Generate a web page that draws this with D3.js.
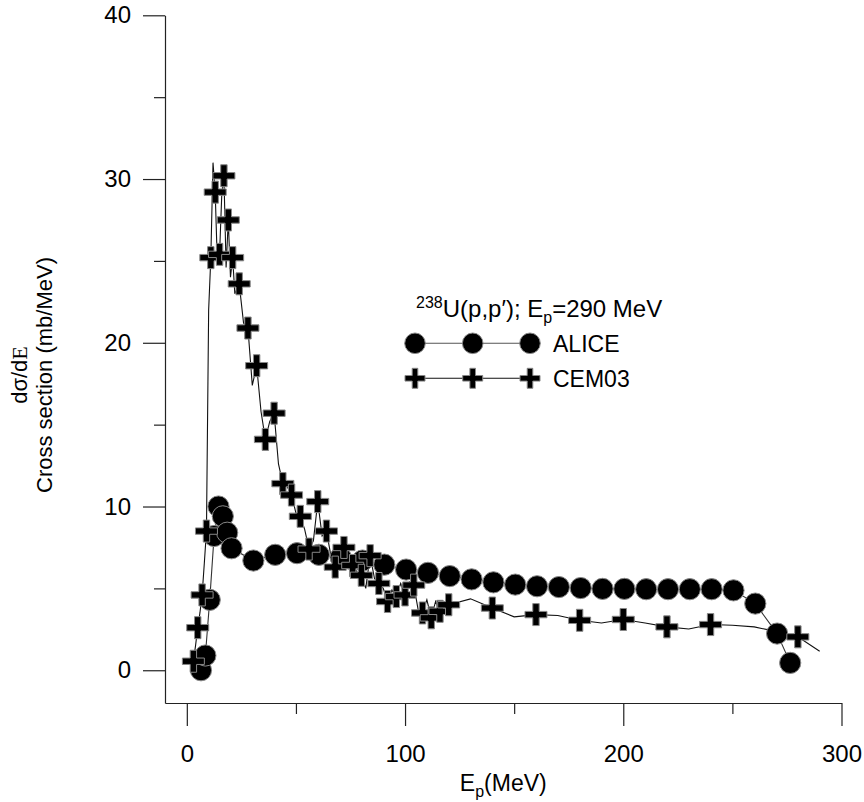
<!DOCTYPE html>
<html>
<head>
<meta charset="utf-8">
<script src="https://cdn.jsdelivr.net/npm/d3@7"></script>
<style>
  html, body { margin: 0; padding: 0; background: #fff; }
  svg { display: block; }
  text { font-family: "Liberation Sans", Arial, sans-serif; fill: #000; }
</style>
</head>
<body>
<svg id="chart" width="864" height="802"></svg>
<script>
// ALICE spectrum (proton energy in MeV, cross section in mb/MeV)
const aliceE   = [6.5, 8.5, 10.5, 12.5, 14.5, 16.5, 18.5, 20.5, 30.5, 40.5, 50.5, 60.5, 70.5, 80.5,
                  90.5, 100.5, 110.5, 120.5, 130.5, 140.5, 150.5, 160.5, 170.5, 180.5, 190.5, 200.5,
                  210.5, 220.5, 230.5, 240.5, 250.5, 260.5, 270.5, 276.5];
const aliceVal = [0.0, 0.9, 4.3, 8.2, 10.0, 9.4, 8.4, 7.45, 6.7, 7.05, 7.15, 7.05, 6.9, 6.7,
                  6.45, 6.15, 5.95, 5.75, 5.55, 5.37, 5.23, 5.13, 5.08, 5.02, 4.97, 4.97,
                  4.95, 4.95, 4.95, 4.95, 4.88, 4.07, 2.24, 0.45];

// CEM03 spectrum, full curve
const cemLineE   = [3, 4, 5, 6, 7, 8, 9, 10, 11, 12, 13, 14, 15, 16, 17, 18, 19, 20, 21, 22,
                    24, 26, 28, 30, 32, 34, 36, 38, 40, 42, 44, 46, 48, 50, 52, 54, 56, 58,
                    60, 62, 64, 66, 68, 70, 72, 74, 76, 78, 80, 82, 84, 86, 88, 90, 92, 94,
                    96, 98, 100, 102, 104, 106, 108, 110, 112, 114, 116, 118, 120, 130, 140,
                    150, 160, 170, 180, 190, 200, 210, 220, 230, 240, 250, 260, 266, 280, 290];
const cemLineVal = [0.55, 1.5, 2.6, 3.5, 4.6, 6.5, 8.5, 22.0, 25.2, 31.0, 29.2, 24.8, 25.4, 29.0,
                    30.2, 24.6, 27.5, 24.0, 25.2, 23.0,
                    23.6, 21.2, 20.9, 17.4, 18.6, 15.8, 14.1, 15.2, 15.7, 12.6, 11.4, 11.2,
                    10.7, 9.6, 9.4, 8.6, 7.4, 7.9,
                    10.3, 8.2, 8.5, 7.0, 6.3, 6.6, 7.5, 6.2, 6.4, 6.0, 5.8, 5.0, 7.0, 5.6,
                    5.3, 5.0, 4.2, 4.9,
                    4.5, 5.3, 4.6, 5.4, 5.2, 3.7, 3.5, 4.3, 3.2, 4.2, 3.6, 3.9, 4.0, 4.36, 3.8,
                    3.26, 3.4, 3.34, 3.05, 2.89, 3.1, 2.89, 2.65, 2.52, 2.79, 2.75, 2.65, 2.48,
                    2.04, 1.16];

// CEM03 points marked with a cross
const cemMarkE   = [3, 5, 7, 9, 11, 13, 15, 17, 19, 21, 24, 28, 32, 36, 40, 44, 48, 52, 56, 60,
                    64, 68, 72, 76, 80, 84, 88, 92, 96, 100, 104, 108, 112, 116, 120,
                    140, 160, 180, 200, 220, 240, 280];
const cemMarkVal = [0.55, 2.6, 4.6, 8.5, 25.2, 29.2, 25.4, 30.2, 27.5, 25.2, 23.6, 20.9, 18.6,
                    14.1, 15.7, 11.4, 10.7, 9.4, 7.4, 10.3,
                    8.5, 6.3, 7.5, 6.4, 5.8, 7.0, 5.3, 4.2, 4.5, 4.6, 5.2, 3.5, 3.2, 3.6, 4.0,
                    3.8, 3.4, 3.05, 3.1, 2.65, 2.79, 2.04];

// Axis ticks
const xMajorTicks = [0, 100, 200, 300];
const xMinorTicks = [50, 150, 250];
const yMajorTicks = [0, 10, 20, 30, 40];
const yMinorTicks = [5, 15, 25, 35];

const svg = d3.select("#chart");

const x = d3.scaleLinear().domain([-10, 300]).range([165, 841.5]);
const y = d3.scaleLinear().domain([-2, 40]).range([703, 15.3]);

// ---- axes ----
const axisColor = "#222";
function styleAxis(g) {
  g.selectAll("path.domain").attr("stroke", axisColor).attr("stroke-width", 1.2);
  g.selectAll(".tick line").attr("stroke", axisColor).attr("stroke-width", 1.2);
}

const yAxisG = svg.append("g").attr("transform", `translate(${x.range()[0]},0)`);
yAxisG.call(d3.axisLeft(y).tickValues(yMajorTicks).tickSize(22).tickSizeOuter(0).tickPadding(12));
yAxisG.selectAll(".tick text").attr("font-size", 24).style("font-family", "Liberation Sans, Arial, sans-serif");
styleAxis(yAxisG);

const yMinorG = svg.append("g").attr("transform", `translate(${x.range()[0]},0)`);
yMinorG.call(d3.axisLeft(y).tickValues(yMinorTicks).tickSize(11).tickSizeOuter(0).tickFormat(""));
yMinorG.select("path.domain").remove();
styleAxis(yMinorG);

const xAxisG = svg.append("g").attr("transform", `translate(0,${y.range()[0]})`);
xAxisG.call(d3.axisBottom(x).tickValues(xMajorTicks).tickSize(23).tickSizeOuter(0).tickPadding(19));
xAxisG.selectAll(".tick text").attr("font-size", 24).style("font-family", "Liberation Sans, Arial, sans-serif");
styleAxis(xAxisG);

const xMinorG = svg.append("g").attr("transform", `translate(0,${y.range()[0]})`);
xMinorG.call(d3.axisBottom(x).tickValues(xMinorTicks).tickSize(11).tickSizeOuter(0).tickFormat(""));
xMinorG.select("path.domain").remove();
styleAxis(xMinorG);

// ---- axis titles ----
const xTitle = svg.append("text")
  .attr("x", (x.range()[0] + x.range()[1]) / 2)
  .attr("y", 791)
  .attr("text-anchor", "middle")
  .attr("font-size", 23);
xTitle.append("tspan").text("E");
xTitle.append("tspan").attr("font-size", 16).attr("dy", 6).text("p");
xTitle.append("tspan").attr("dy", -6).text("(MeV)");

const yTitleCy = 375;
const yT1 = svg.append("text")
  .attr("transform", `translate(27,${yTitleCy}) rotate(-90)`)
  .attr("text-anchor", "middle")
  .attr("font-size", 22);
yT1.append("tspan").text("dσ/d");
yT1.append("tspan").style("font-family", "Liberation Serif, Times New Roman, serif").text("E");

svg.append("text")
  .attr("transform", `translate(52,${yTitleCy}) rotate(-90)`)
  .attr("text-anchor", "middle")
  .attr("font-size", 22)
  .text("Cross section (mb/MeV)");

// ---- data ----
const alice = aliceE.map((e, i) => ({ e, v: aliceVal[i] }));
const cemLine = cemLineE.map((e, i) => ({ e, v: cemLineVal[i] }));
const cemMarks = cemMarkE.map((e, i) => ({ e, v: cemMarkVal[i] }));

const line = d3.line().x(d => x(d.e)).y(d => y(d.v));

svg.append("path").datum(alice)
  .attr("d", line).attr("fill", "none").attr("stroke", "#333").attr("stroke-width", 1.1);
svg.append("path").datum(cemLine)
  .attr("d", line).attr("fill", "none").attr("stroke", "#111").attr("stroke-width", 1.1);

// Plus-shaped marker path centred on the origin
function crossPath(h, t) {
  const a = t / 2;
  return `M${-a},${-h}H${a}V${-a}H${h}V${a}H${a}V${h}H${-a}V${a}H${-h}V${-a}H${-a}Z`;
}

svg.append("g").selectAll("circle").data(alice).join("circle")
  .attr("cx", d => x(d.e)).attr("cy", d => y(d.v)).attr("r", 10.6)
  .attr("fill", "#000").attr("stroke", "#888").attr("stroke-width", 1);

svg.append("g").selectAll("path").data(cemMarks).join("path")
  .attr("transform", d => `translate(${x(d.e)},${y(d.v)})`)
  .attr("d", crossPath(11, 6.4))
  .attr("fill", "#000").attr("stroke", "#888").attr("stroke-width", 1);

// ---- legend ----
const legend = svg.append("g");
const lt = legend.append("text").attr("x", 416).attr("y", 317).attr("font-size", 24);
lt.append("tspan").attr("font-size", 16).attr("dy", -9).text("238");
lt.append("tspan").attr("dy", 9).text("U(p,p′); E");
lt.append("tspan").attr("font-size", 16).attr("dy", 6).text("p");
lt.append("tspan").attr("dy", -6).text("=290 MeV");

const legX = [415, 472.7, 530];
const legRows = [
  { name: "ALICE", y: 343.3, kind: "circle" },
  { name: "CEM03", y: 378.3, kind: "cross" }
];
legRows.forEach(r => {
  legend.append("line")
    .attr("x1", legX[0]).attr("x2", legX[2]).attr("y1", r.y).attr("y2", r.y)
    .attr("stroke", r.kind === "circle" ? "#555" : "#111").attr("stroke-width", 1.1);
  legX.forEach(cx => {
    if (r.kind === "circle") {
      legend.append("circle").attr("cx", cx).attr("cy", r.y).attr("r", 10.3)
        .attr("fill", "#000").attr("stroke", "#888").attr("stroke-width", 1);
    } else {
      legend.append("path").attr("transform", `translate(${cx},${r.y})`)
        .attr("d", crossPath(10, 5.6))
        .attr("fill", "#000").attr("stroke", "#888").attr("stroke-width", 1);
    }
  });
  legend.append("text").attr("x", 553).attr("y", r.y + 8.5).attr("font-size", 23).text(r.name);
});
</script>
</body>
</html>
